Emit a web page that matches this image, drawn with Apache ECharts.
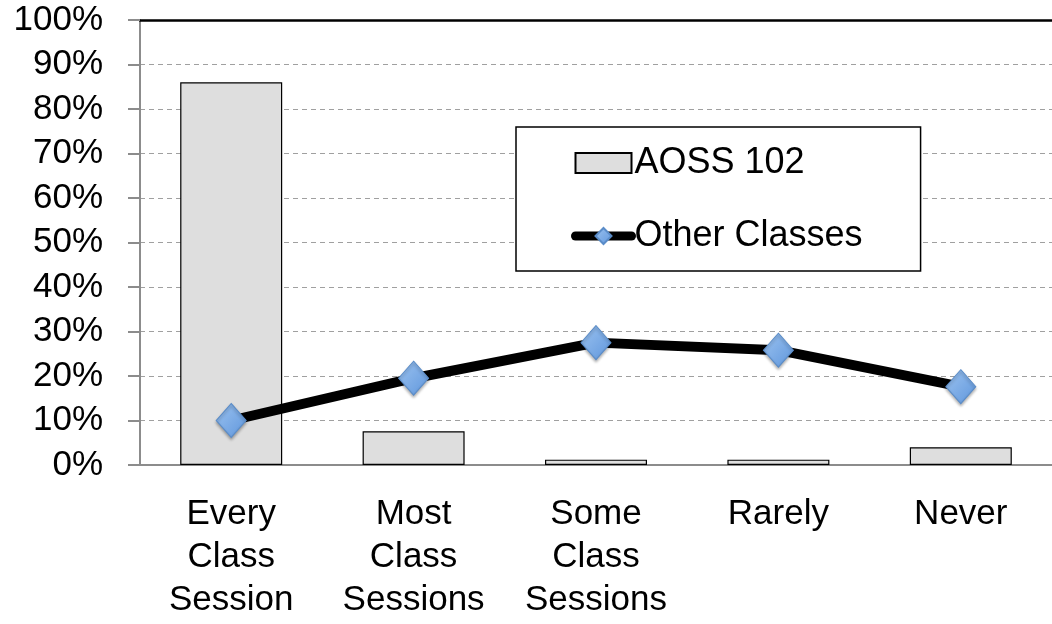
<!DOCTYPE html>
<html>
<head>
<meta charset="utf-8">
<script src="https://cdn.jsdelivr.net/npm/echarts@6/dist/echarts.min.js"></script>
<style>html,body{margin:0;padding:0;background:#fff;}#c{width:1052px;height:624px;}</style>
</head>
<body>
<div id="c"></div>
<script>
const categories = ['Every\nClass\nSession', 'Most\nClass\nSessions', 'Some\nClass\nSessions', 'Rarely', 'Never'];
const aoss102 = [86, 7.6, 1.2, 1.2, 4.0];
const otherClasses = [10, 19.5, 27.5, 25.8, 17.6];
const seriesNames = ['AOSS 102', 'Other Classes'];

const FONT = '"Liberation Sans", Arial, Helvetica, sans-serif';
const chart = echarts.init(document.getElementById('c'), null, {renderer: 'canvas'});
chart.setOption({
  animation: false,
  textStyle: {fontFamily: FONT},
  grid: {left: 140, top: 20, width: 920, height: 445, containLabel: false},
  legend: {
    orient: 'vertical',
    left: 516, top: 127,
    padding: [16, 58, 15, 55],
    itemGap: 33,
    itemWidth: 56, itemHeight: 20,
    borderColor: '#000', borderWidth: 1.5,
    backgroundColor: '#fff',
    textStyle: {fontSize: 36, color: '#000', fontFamily: FONT, lineHeight: 40, padding: [0, 0, 0, -2]},
    data: [
      {name: seriesNames[0], icon: 'rect'},
      {name: seriesNames[1], lineStyle: {width: 9, cap: 'round', color: '#000'}}
    ]
  },
  xAxis: [{
    type: 'category',
    data: categories,
    axisLine: {lineStyle: {color: '#8c8c8c', width: 2}},
    axisTick: {length: 11, lineStyle: {color: '#8c8c8c', width: 2}},
    axisLabel: {fontSize: 35, color: '#000', lineHeight: 43, margin: 28, fontFamily: FONT, interval: 0}
  }, {
    type: 'category',
    position: 'top',
    data: categories,
    axisLine: {lineStyle: {color: '#000', width: 2.5}},
    axisTick: {show: false},
    axisLabel: {show: false}
  }],
  yAxis: {
    type: 'value',
    min: 0, max: 100, interval: 10,
    axisLine: {show: true, lineStyle: {color: '#8c8c8c', width: 2}},
    axisTick: {show: true, length: 12, lineStyle: {color: '#8c8c8c', width: 2}},
    axisLabel: {fontSize: 35, color: '#000', margin: 37, formatter: '{value}%', fontFamily: FONT},
    splitLine: {lineStyle: {color: '#a0a0a0', type: [5, 4], width: 1}}
  },
  series: [{
    name: seriesNames[0],
    type: 'bar',
    data: aoss102,
    barWidth: 102,
    itemStyle: {color: '#dedede', borderColor: '#000', borderWidth: 1.2}
  }, {
    name: seriesNames[1],
    type: 'line',
    data: otherClasses,
    symbol: 'diamond',
    symbolSize: [30, 34],
    lineStyle: {color: '#000', width: 10, cap: 'round'},
    itemStyle: {
      color: new echarts.graphic.LinearGradient(0, 0, 1, 1, [
        {offset: 0, color: '#9cc3f0'}, {offset: 1, color: '#5f96dc'}
      ]),
      borderColor: '#5a8cc8', borderWidth: 1,
      shadowColor: 'rgba(0,0,0,0.3)', shadowBlur: 3, shadowOffsetY: 2
    },
    z: 5
  }]
});
</script>
</body>
</html>
